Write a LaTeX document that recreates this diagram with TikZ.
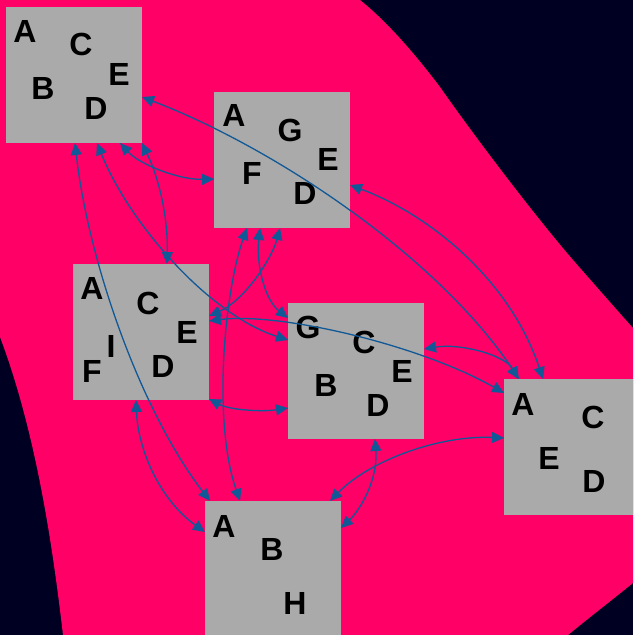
\documentclass[tikz,border=0pt]{standalone}
\usepackage{fontspec}
\setmainfont{Liberation Sans}
\usetikzlibrary{arrows.meta,calc}
\definecolor{navy}{HTML}{000022}
\definecolor{blobpink}{HTML}{FF0066}
\definecolor{boxgrey}{HTML}{AAAAAA}
\definecolor{edgeblue}{RGB}{16,88,150}
\tikzset{
  box/.style={fill=boxgrey, draw=none, minimum size=136pt, inner sep=0pt, outer sep=0pt},
  lt/.style={font=\bfseries\fontsize{32}{32}\selectfont, inner sep=0pt, text=black},
  link/.style={draw=edgeblue, line width=1.3pt,
    arrows={Triangle[length=12pt,width=11pt]-Triangle[length=12pt,width=11pt]}}
}
\begin{document}
\begin{tikzpicture}[x=1pt,y=-1pt]
\useasboundingbox (0,0) rectangle (633,635);
\clip (0,0) rectangle (633,635);
\fill[navy] (0,0) rectangle (633,635);
\fill[blobpink] (0,0) -- (360,0)
  .. controls (385,20) and (412,50) .. (440,87)
  .. controls (470,130) and (530,210) .. (573,260)
  .. controls (595,285) and (615,308) .. (633,328)
  -- (633,583) .. controls (612,600) and (590,617) .. (568,635)
  -- (63,635) .. controls (52,540) and (35,430) .. (0,337) -- cycle;

% boxes
\node[box] (n1) at (74,75) {};
\node[box] (n2) at (282,160) {};
\node[box] (n3) at (141,332) {};
\node[box] (n4) at (356,371) {};
\node[box] (n5) at (572,447) {};
\node[box] (n6) at (273,569) {};

% letters
\node[lt] (n1A) at (25,31) {A};
\node[lt] (n1C) at (81,44) {C};
\node[lt] (n1E) at (119,74) {E};
\node[lt] (n1B) at (43,88) {B};
\node[lt] (n1D) at (96,108) {D};

\node[lt] (n2A) at (234,115) {A};
\node[lt] (n2G) at (290,130) {G};
\node[lt] (n2E) at (328,159) {E};
\node[lt] (n2F) at (252,173) {F};
\node[lt] (n2D) at (305,193) {D};

\node[lt] (n3A) at (92,288) {A};
\node[lt] (n3C) at (148,303) {C};
\node[lt] (n3E) at (187,332) {E};
\node[lt] (n3I) at (111,346) {I};
\node[lt] (n3F) at (92,371) {F};
\node[lt] (n3D) at (163,366) {D};

\node[lt] (n4G) at (308,327) {G};
\node[lt] (n4C) at (364,342) {C};
\node[lt] (n4E) at (402,371) {E};
\node[lt] (n4B) at (326,385) {B};
\node[lt] (n4D) at (378,405) {D};

\node[lt] (n5A) at (523,404) {A};
\node[lt] (n5C) at (593,417) {C};
\node[lt] (n5E) at (549,458) {E};
\node[lt] (n5D) at (594,481) {D};

\node[lt] (n6A) at (224,526) {A};
\node[lt] (n6B) at (272,549) {B};
\node[lt] (n6H) at (295,603) {H};

% connectors
\draw[link] ($(n1.north west)+(136,90)$) .. controls +(138,53) and +(-79,-119) .. ($(n5.north west)+(15,0)$);
\draw[link] ($(n2.north west)+(136,93)$) .. controls +(80,30) and +(-33,-99) .. ($(n5.north west)+(39,0)$);
\draw[link] ($(n1.north west)+(114,136)$) .. controls +(20,22) and +(-34,1) .. ($(n2.north west)+(0,87)$);
\draw[link] ($(n1.north west)+(69,136)$) .. controls +(13,117) and +(-70,-91) .. ($(n6.north west)+(5,0)$);
\draw[link] ($(n1.north west)+(91,136)$) .. controls +(33,82) and +(-78,-25) .. ($(n4.north west)+(0,37)$);
\draw[link] ($(n1.north west)+(136,136)$) .. controls +(20,42) and +(1,-39) .. ($(n3.north west)+(94,0)$);
\draw[link] ($(n2.north west)+(33,136)$) .. controls +(-22,62) and +(-28,-81) .. ($(n6.north west)+(35,0)$);
\draw[link] ($(n2.north west)+(46,136)$) .. controls +(-4,37) and +(-23,-18) .. ($(n4.north west)+(0,15)$);
\draw[link] ($(n2.north west)+(66,136)$) .. controls +(-8,30) and +(36,-16) .. ($(n3.north west)+(136,52)$);
\draw[link] ($(n3.north west)+(136,57)$) .. controls +(71,-9) and +(-84,-48) .. ($(n5.north west)+(0,14)$);
\draw[link] ($(n3.north west)+(136,135)$) .. controls +(21,11) and +(-26,4) .. ($(n4.north west)+(0,105)$);
\draw[link] ($(n3.north west)+(63,136)$) .. controls +(2,50) and +(-45,-32) .. ($(n6.north west)+(0,31)$);
\draw[link] ($(n4.north west)+(136,46)$) .. controls +(36,-6) and +(-13,-24) .. ($(n5.north west)+(14,0)$);
\draw[link] ($(n4.north west)+(87,136)$) .. controls +(3,41) and +(19,-18) .. ($(n6.north west)+(136,27)$);
\draw[link] ($(n5.north west)+(0,59)$) .. controls +(-64,-3) and +(40,-41) .. ($(n6.north west)+(125,0)$);
\end{tikzpicture}
\end{document}
